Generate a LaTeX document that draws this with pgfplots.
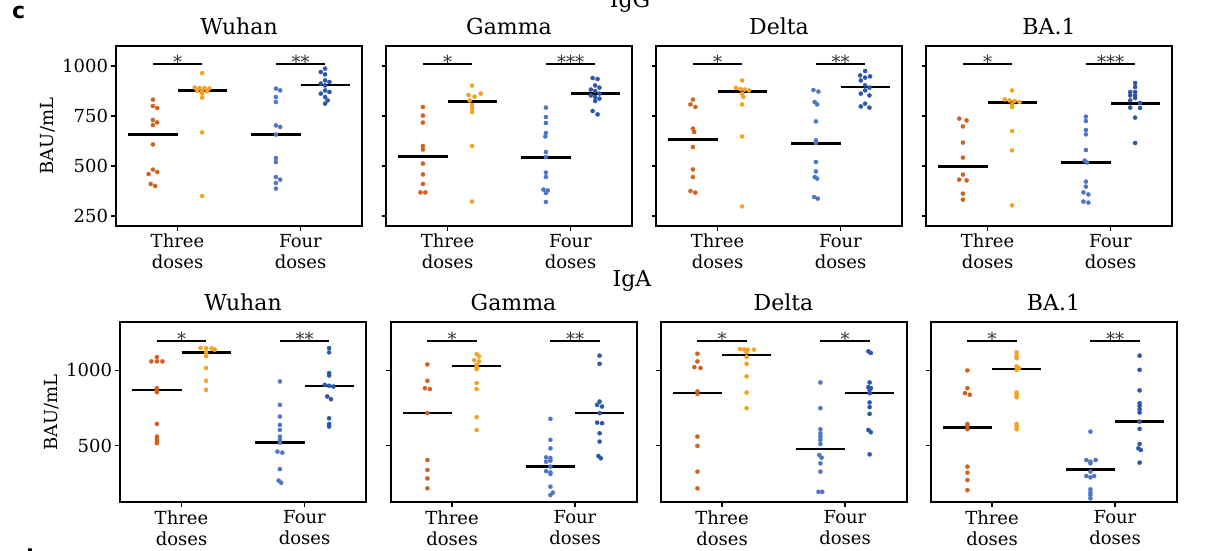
\documentclass[border=0pt]{standalone}
\usepackage{pgfplots}
\pgfplotsset{compat=1.18}
\usepackage{fontspec}
\setmainfont{DejaVu Serif}
\newfontfamily\sansfam{DejaVu Sans}
\definecolor{cA}{RGB}{208,98,30}
\definecolor{cB}{RGB}{245,162,35}
\definecolor{cC}{RGB}{78,118,196}
\definecolor{cD}{RGB}{44,86,170}
\tikzset{sigstar/.style={font=\fontsize{18}{20}\selectfont, anchor=base, yshift=-5pt, inner sep=0pt, text=black!80}}
\pgfplotsset{
  panel/.style={
    scale only axis, width=246pt, height=180pt,
    xmin=-0.5, xmax=1.5,
    xtick={0,1}, xticklabels={{Three\\doses},{Four\\doses}},
    xticklabel style={align=center, font=\fontsize{18}{21}\selectfont},
    yticklabel style={font=\fontsize{18}{21}\selectfont},
    ylabel style={font=\fontsize{18}{21}\selectfont},
    tick align=outside, tick pos=left,
    major tick length=4.5pt,
    major tick style={black, line width=1.3pt},
    axis line style={line width=2pt},
    title style={font=\fontsize{22}{24}\selectfont, inner sep=0pt, anchor=south, yshift=5pt},
    clip=false,
    /pgf/number format/assume math mode=true,
    /pgf/number format/1000 sep={},
  },
  toprow/.style={ymin=200, ymax=1100, ytick={250,500,750,1000}},
  botrow/.style={ymin=123, ymax=1320, ytick={500,1000}},
  noylab/.style={yticklabels={}},
  dots/.style={only marks, mark=*, mark size=2.1pt, color=#1, mark options={solid, draw=#1, fill=#1, line width=0.3pt}},
  med/.style={black, line width=2.5pt},
  brk/.style={black, line width=1.8pt},
}
\newcommand{\sig}[3]{%
  \addplot[brk] coordinates {(-0.2,#1) (0.2,#1)};
  \addplot[brk] coordinates {(0.8,#1) (1.2,#1)};
  \node[sigstar] at (axis cs:0,#1) {#2};
  \node[sigstar] at (axis cs:1,#1) {#3};
}
\newcommand{\meds}[4]{%
  \addplot[med] coordinates {(-0.4,#1) (0,#1)};
  \addplot[med] coordinates {(0,#2) (0.4,#2)};
  \addplot[med] coordinates {(0.6,#3) (1,#3)};
  \addplot[med] coordinates {(1,#4) (1.4,#4)};
}
\begin{document}
\begin{tikzpicture}
\path[use as bounding box] (0,0) rectangle (1230pt,-550pt);

% ---------- IgG row ----------
\begin{axis}[panel, toprow, at={(116pt,-226pt)}, anchor=south west, title={Wuhan}, ylabel={BAU/mL}]
\meds{658}{877}{657}{905}
\addplot[dots=cA] coordinates {(-0.2,832) (-0.2,800) (-0.165,790) (-0.2,730) (-0.165,718) (-0.2,705) (-0.2,608) (-0.2,482) (-0.165,470) (-0.235,460) (-0.218,410) (-0.182,400)};
\addplot[dots=cB] coordinates {(0.2,965) (0.14,892) (0.18,890) (0.22,890) (0.26,888) (0.16,876) (0.2,874) (0.24,874) (0.2,862) (0.2,842) (0.2,668) (0.2,350)};
\addplot[dots=cC] coordinates {(0.8,887) (0.835,878) (0.8,845) (0.8,820) (0.8,703) (0.835,695) (0.8,657) (0.8,540) (0.8,520) (0.8,445) (0.835,432) (0.8,415) (0.8,387)};
\addplot[dots=cD] coordinates {(1.2,987) (1.165,970) (1.2,958) (1.2,928) (1.235,920) (1.165,912) (1.2,903) (1.2,878) (1.235,870) (1.165,862) (1.2,845) (1.22,828) (1.2,812)};
\sig{1012}{*}{**}
\end{axis}

\begin{axis}[panel, toprow, noylab, at={(386pt,-226pt)}, anchor=south west, title={Gamma}]
\meds{547}{822}{543}{862}
\addplot[dots=cA] coordinates {(-0.2,795) (-0.2,752) (-0.2,717) (-0.2,600) (-0.2,583) (-0.2,512) (-0.2,458) (-0.2,410) (-0.22,368) (-0.18,368)};
\addplot[dots=cB] coordinates {(0.2,902) (0.27,862) (0.17,855) (0.22,847) (0.18,828) (0.2,805) (0.2,790) (0.2,770) (0.2,600) (0.2,322)};
\addplot[dots=cC] coordinates {(0.8,792) (0.8,745) (0.8,715) (0.8,665) (0.795,648) (0.8,570) (0.8,545) (0.8,467) (0.8,445) (0.78,382) (0.815,378) (0.8,365) (0.8,320)};
\addplot[dots=cD] coordinates {(1.18,940) (1.22,935) (1.2,903) (1.235,892) (1.165,882) (1.2,875) (1.235,862) (1.165,853) (1.2,845) (1.235,837) (1.2,825) (1.18,775) (1.22,758)};
\sig{1012}{*}{***}
\end{axis}

\begin{axis}[panel, toprow, noylab, at={(656pt,-226pt)}, anchor=south west, title={Delta}]
\meds{632}{873}{612}{895}
\addplot[dots=cA] coordinates {(-0.2,832) (-0.22,808) (-0.18,795) (-0.2,687) (-0.19,670) (-0.2,595) (-0.2,483) (-0.2,445) (-0.22,375) (-0.18,367)};
\addplot[dots=cB] coordinates {(0.2,928) (0.15,890) (0.185,885) (0.22,882) (0.255,878) (0.2,862) (0.21,845) (0.2,808) (0.2,648) (0.2,298)};
\addplot[dots=cC] coordinates {(0.78,880) (0.82,872) (0.79,820) (0.81,808) (0.8,723) (0.8,628) (0.8,615) (0.8,520) (0.8,473) (0.79,445) (0.81,437) (0.785,345) (0.815,337)};
\addplot[dots=cD] coordinates {(1.2,975) (1.16,953) (1.24,948) (1.2,942) (1.165,928) (1.2,903) (1.235,892) (1.2,878) (1.165,862) (1.235,853) (1.2,812) (1.165,798) (1.235,792)};
\sig{1012}{*}{**}
\end{axis}

\begin{axis}[panel, toprow, noylab, at={(926pt,-226pt)}, anchor=south west, title={BA.1}]
\meds{498}{817}{517}{812}
\addplot[dots=cA] coordinates {(-0.23,737) (-0.17,728) (-0.2,698) (-0.2,617) (-0.2,542) (-0.2,457) (-0.23,432) (-0.17,428) (-0.2,362) (-0.2,332)};
\addplot[dots=cB] coordinates {(0.2,878) (0.14,833) (0.18,828) (0.22,825) (0.26,820) (0.2,808) (0.2,795) (0.2,675) (0.2,578) (0.2,303)};
\addplot[dots=cC] coordinates {(0.8,747) (0.8,725) (0.8,680) (0.8,658) (0.8,580) (0.79,527) (0.81,517) (0.8,422) (0.8,397) (0.78,368) (0.82,358) (0.78,322) (0.82,317)};
\addplot[dots=cD] coordinates {(1.2,915) (1.2,895) (1.16,870) (1.2,870) (1.16,853) (1.2,853) (1.2,840) (1.16,828) (1.24,815) (1.16,792) (1.24,790) (1.2,742) (1.2,615)};
\sig{1012}{*}{***}
\end{axis}

% ---------- IgA row ----------
\begin{axis}[panel, botrow, at={(120pt,-502.3pt)}, anchor=south west, title={Wuhan}, ylabel={BAU/mL}]
\meds{871}{1120}{520}{898}
\addplot[dots=cA] coordinates {(-0.2,1089) (-0.245,1060) (-0.2,1060) (-0.155,1060) (-0.2,882) (-0.2,866) (-0.2,855) (-0.2,644) (-0.2,560) (-0.2,542) (-0.2,527) (-0.2,516)};
\addplot[dots=cB] coordinates {(0.155,1150) (0.2,1148) (0.245,1146) (0.27,1138) (0.2,1120) (0.2,1095) (0.2,1016) (0.2,931) (0.2,871)};
\addplot[dots=cC] coordinates {(0.8,927) (0.8,771) (0.8,693) (0.8,638) (0.8,604) (0.8,560) (0.8,538) (0.8,520) (0.78,460) (0.82,453) (0.8,344) (0.79,267) (0.81,253)};
\addplot[dots=cD] coordinates {(1.2,1149) (1.2,1120) (1.2,982) (1.2,966) (1.165,904) (1.2,898) (1.235,893) (1.185,827) (1.215,809) (1.2,682) (1.2,644) (1.2,627)};
\sig{1198}{*}{**}
\end{axis}

\begin{axis}[panel, botrow, noylab, at={(390.5pt,-502.3pt)}, anchor=south west, title={Gamma}]
\meds{716}{1031}{360}{716}
\addplot[dots=cA] coordinates {(-0.2,1040) (-0.2,931) (-0.22,882) (-0.18,876) (-0.2,716) (-0.2,404) (-0.2,338) (-0.2,282) (-0.2,216)};
\addplot[dots=cB] coordinates {(0.2,1109) (0.22,1093) (0.18,1069) (0.22,1060) (0.2,1038) (0.2,1022) (0.2,1009) (0.2,916) (0.2,876) (0.2,689) (0.2,604)};
\addplot[dots=cC] coordinates {(0.8,678) (0.8,538) (0.8,482) (0.765,422) (0.8,418) (0.8,400) (0.765,393) (0.8,360) (0.765,330) (0.8,322) (0.8,311) (0.8,227) (0.82,187) (0.8,171)};
\addplot[dots=cD] coordinates {(1.2,1098) (1.2,1044) (1.2,793) (1.18,771) (1.22,760) (1.2,716) (1.18,653) (1.22,649) (1.2,582) (1.2,527) (1.19,431) (1.21,416)};
\sig{1198}{*}{**}
\end{axis}

\begin{axis}[panel, botrow, noylab, at={(660.5pt,-502.3pt)}, anchor=south west, title={Delta}]
\meds{849}{1104}{478}{849}
\addplot[dots=cA] coordinates {(-0.2,1111) (-0.2,1060) (-0.225,1022) (-0.175,1016) (-0.2,860) (-0.2,844) (-0.2,560) (-0.2,498) (-0.2,327) (-0.2,216)};
\addplot[dots=cB] coordinates {(0.146,1142) (0.18,1140) (0.21,1138) (0.26,1138) (0.2,1120) (0.2,1089) (0.2,1044) (0.2,960) (0.2,853) (0.2,749)};
\addplot[dots=cC] coordinates {(0.8,920) (0.8,749) (0.8,609) (0.8,582) (0.8,560) (0.8,538) (0.8,511) (0.79,438) (0.81,420) (0.8,382) (0.8,327) (0.785,193) (0.815,193)};
\addplot[dots=cD] coordinates {(1.19,1127) (1.21,1116) (1.2,920) (1.19,889) (1.21,882) (1.2,871) (1.2,849) (1.2,787) (1.2,756) (1.2,711) (1.19,604) (1.21,589) (1.2,442)};
\sig{1198}{*}{*}
\end{axis}

\begin{axis}[panel, botrow, noylab, at={(930.5pt,-502.3pt)}, anchor=south west, title={BA.1}]
\meds{620}{1011}{342}{660}
\addplot[dots=cA] coordinates {(-0.2,1000) (-0.2,882) (-0.22,849) (-0.18,838) (-0.2,644) (-0.2,631) (-0.2,609) (-0.2,360) (-0.2,320) (-0.2,271) (-0.2,204)};
\addplot[dots=cB] coordinates {(0.2,1120) (0.2,1098) (0.2,1082) (0.2,1027) (0.22,1016) (0.2,1004) (0.2,853) (0.2,838) (0.2,822) (0.2,644) (0.2,627) (0.2,609)};
\addplot[dots=cC] coordinates {(0.8,593) (0.767,404) (0.843,404) (0.8,393) (0.8,382) (0.8,327) (0.767,298) (0.83,298) (0.8,289) (0.8,209) (0.8,187) (0.8,171) (0.8,149)};
\addplot[dots=cD] coordinates {(1.2,1098) (1.2,1004) (1.2,867) (1.2,782) (1.2,764) (1.2,742) (1.2,720) (1.2,660) (1.2,611) (1.2,511) (1.19,482) (1.21,471) (1.2,387)};
\sig{1198}{*}{**}
\end{axis}

% ---------- labels ----------
\node[anchor=base, font=\fontsize{22}{24}\selectfont, inner sep=0pt] at (630pt,-7pt) {IgG};
\node[anchor=base, font=\fontsize{22}{24}\selectfont, inner sep=0pt] at (632pt,-286pt) {IgA};
\node[anchor=base west, font=\fontsize{22}{24}\sansfam\bfseries, inner sep=0pt] at (12pt,-18pt) {c};
\node[anchor=base west, font=\fontsize{22}{24}\sansfam\bfseries, inner sep=0pt] at (18pt,-565pt) {d};
\end{tikzpicture}
\end{document}
